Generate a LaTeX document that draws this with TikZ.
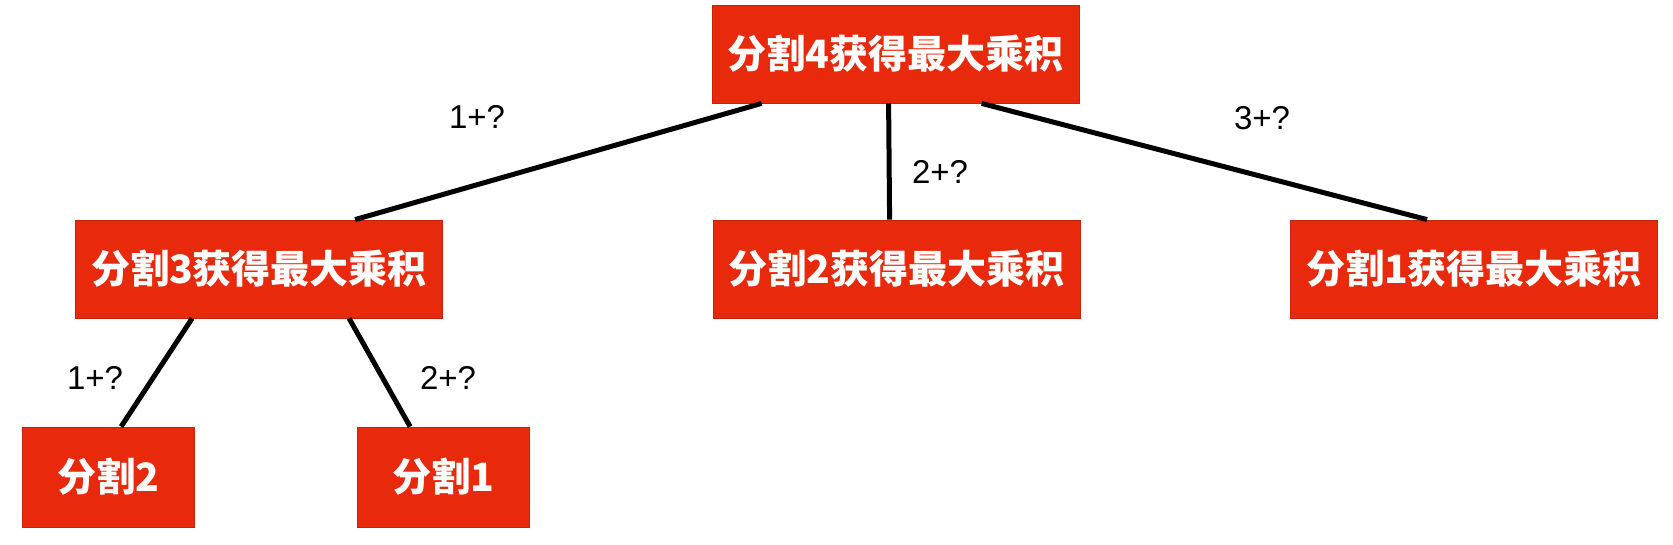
\documentclass[tikz,border=0pt]{standalone}
\usepackage{fontspec}
\setmainfont{Liberation Sans}
\newfontfamily\cjk{Noto Sans CJK SC}
\definecolor{boxred}{RGB}{233,41,12}
\tikzset{
  redbox/.style={fill=boxred, draw=boxred!85!black, line width=0.8pt, text=white, inner sep=0pt,
    font=\cjk\bfseries\fontsize{39}{44}\selectfont, anchor=center},
  bigbox/.style={redbox, minimum width=367pt, minimum height=98pt},
  smallbox/.style={redbox, minimum width=172pt, minimum height=100pt},
  edge/.style={line width=5pt, black},
  elabel/.style={font=\fontsize{33}{38}\selectfont, text=black, inner sep=0pt}
}
\begin{document}
\begin{tikzpicture}[x=1pt,y=-1pt]
\useasboundingbox (0,0) rectangle (1673,544);
\fill[white] (0,0) rectangle (1673,544);
\node[bigbox] (root) at (895.5,54) {分割4获得最大乘积};
\node[bigbox] (L) at (259,269) {分割3获得最大乘积};
\node[bigbox] (M) at (896.5,269) {分割2获得最大乘积};
\node[bigbox] (R) at (1474,269) {分割1获得最大乘积};
\node[smallbox] (BL) at (108.5,477) {分割2};
\node[smallbox] (BM) at (443.5,477) {分割1};
\draw[edge] ([xshift=50pt]root.south west) -- ([xshift=280pt]L.north west);
\draw[edge] ([xshift=177pt]root.south west) -- ([xshift=177pt]M.north west);
\draw[edge] ([xshift=270pt]root.south west) -- ([xshift=137pt]R.north west);
\draw[edge] ([xshift=117pt]L.south west) -- ([xshift=99pt]BL.north west);
\draw[edge] ([xshift=274pt]L.south west) -- ([xshift=53pt]BM.north west);
\node[elabel] (l1) at (477,117) {1+?};
\node[elabel] (l2) at (940,172) {2+?};
\node[elabel] (l3) at (1262,118) {3+?};
\node[elabel] (l4) at (95,378) {1+?};
\node[elabel] (l5) at (448,378) {2+?};
\end{tikzpicture}
\end{document}
